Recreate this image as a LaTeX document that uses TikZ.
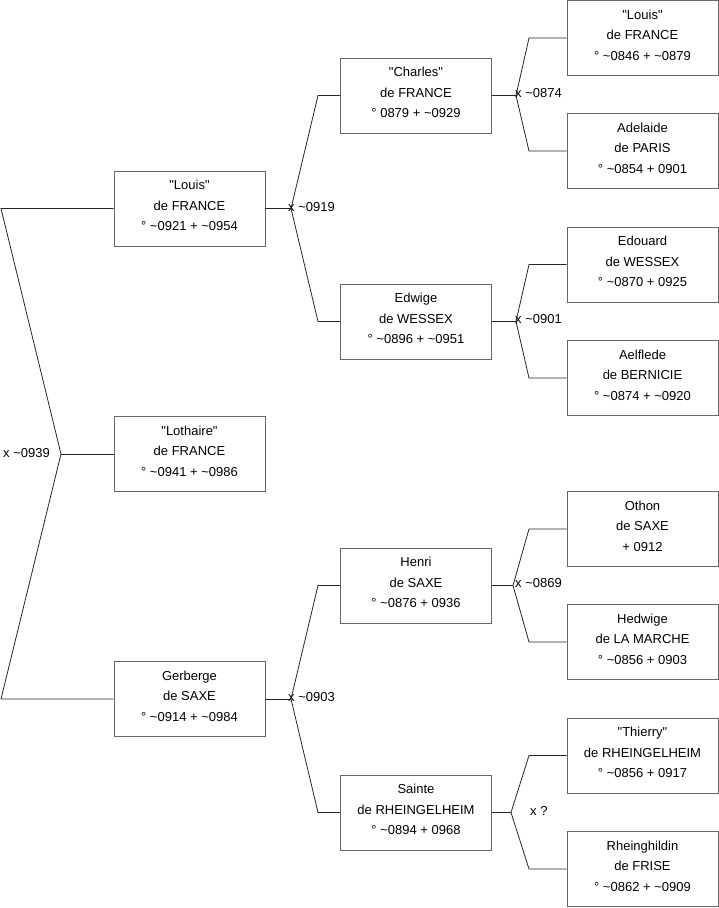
\documentclass[tikz,border=0pt]{standalone}
\usepackage{fontspec}
\setmainfont{Liberation Sans}[Ligatures=TeXOff]
\newcommand\qq{\symbol{34}}
\newcommand\tl{\textasciitilde}
\begin{document}
\begin{tikzpicture}[x=1pt,y=-1pt,
  person/.style={draw=black!60, line width=0.9pt, minimum width=151pt, minimum height=75pt, inner sep=0pt},
  ptext/.style={align=center, inner sep=0pt, font=\fontsize{13}{20.5}\selectfont},
  link/.style={draw=black!85, line width=0.8pt},
  mar/.style={font=\fontsize{13}{15}\selectfont, inner sep=1pt}]
\newcommand\person[4]{%
  \node[person] (#1) at (#2,#3) {};
  \node[ptext] (#1-t) at (#2,#3-3) {#4};}
\useasboundingbox (0,0) rectangle (719,908);
% level 1
\person{louis1}{189.5}{208.5}{\qq Louis\qq\\de FRANCE\\° \tl0921 + \tl0954}
\person{lothaire}{189.5}{454}{\qq Lothaire\qq\\de FRANCE\\° \tl0941 + \tl0986}
\person{gerberge}{189.5}{699}{Gerberge\\de SAXE\\° \tl0914 + \tl0984}
% level 2
\person{charles}{416}{95.5}{\qq Charles\qq\\de FRANCE\\° 0879 + \tl0929}
\person{edwige}{416}{321.5}{Edwige\\de WESSEX\\° \tl0896 + \tl0951}
\person{henri}{416}{585.5}{Henri\\de SAXE\\° \tl0876 + 0936}
\person{sainte}{416}{812.5}{Sainte\\de RHEINGELHEIM\\° \tl0894 + 0968}
% level 3
\person{louis3}{642.5}{38}{\qq Louis\qq\\de FRANCE\\° \tl0846 + \tl0879}
\person{adelaide}{642.5}{151}{Adelaide\\de PARIS\\° \tl0854 + 0901}
\person{edouard}{642.5}{264.5}{Edouard\\de WESSEX\\° \tl0870 + 0925}
\person{aelflede}{642.5}{378}{Aelflede\\de BERNICIE\\° \tl0874 + \tl0920}
\person{othon}{642.5}{529}{Othon\\de SAXE\\+ 0912}
\person{hedwige}{642.5}{642}{Hedwige\\de LA MARCHE\\° \tl0856 + 0903}
\person{thierry}{642.5}{755.5}{\qq Thierry\qq\\de RHEINGELHEIM\\° \tl0856 + 0917}
\person{rheing}{642.5}{869}{Rheinghildin\\de FRISE\\° \tl0862 + \tl0909}
% fork points
\coordinate (a0) at (1,208.5);
\coordinate (a1) at (61,454);
\coordinate (a2) at (1,699);
\coordinate (b1) at (291,208.5);
\coordinate (b1u) at (318,95.5);
\coordinate (b1d) at (318,321.5);
\coordinate (b2) at (291,699);
\coordinate (b2u) at (318,585.5);
\coordinate (b2d) at (318,812.5);
\coordinate (c1) at (516,95.5);
\coordinate (c1u) at (529,38);
\coordinate (c1d) at (529,151);
\coordinate (c2) at (516,321.5);
\coordinate (c2u) at (529,264.5);
\coordinate (c2d) at (529,378);
\coordinate (c3) at (513,585.5);
\coordinate (c3u) at (529,529);
\coordinate (c3d) at (529,642);
\coordinate (c4) at (511,812.5);
\coordinate (c4u) at (529,755.5);
\coordinate (c4d) at (529,869);
% connectors
\draw[link] (louis1.west) -- (a0) -- (a1) -- (a2) -- (gerberge.west);
\draw[link] (a1) -- (lothaire.west);
\draw[link] (louis1.east) -- (b1);
\draw[link] (charles.west) -- (b1u) -- (b1) -- (b1d) -- (edwige.west);
\draw[link] (gerberge.east) -- (b2);
\draw[link] (henri.west) -- (b2u) -- (b2) -- (b2d) -- (sainte.west);
\draw[link] (charles.east) -- (c1);
\draw[link] (louis3.west) -- (c1u) -- (c1) -- (c1d) -- (adelaide.west);
\draw[link] (edwige.east) -- (c2);
\draw[link] (edouard.west) -- (c2u) -- (c2) -- (c2d) -- (aelflede.west);
\draw[link] (henri.east) -- (c3);
\draw[link] (othon.west) -- (c3u) -- (c3) -- (c3d) -- (hedwige.west);
\draw[link] (sainte.east) -- (c4);
\draw[link] (thierry.west) -- (c4u) -- (c4) -- (c4d) -- (rheing.west);
% marriage labels
\node[mar, anchor=west] (m0) at (2,453) {x \tl0939};
\node[mar, anchor=west] (m1) at (287,207.5) {x \tl0919};
\node[mar, anchor=west] (m2) at (287,697.5) {x \tl0903};
\node[mar, anchor=west] (m3) at (514,93.5) {x \tl0874};
\node[mar, anchor=west] (m4) at (514,319.5) {x \tl0901};
\node[mar, anchor=west] (m5) at (514,583.5) {x \tl0869};
\node[mar, anchor=west] (m6) at (529,811) {x ?};
\end{tikzpicture}
\end{document}
